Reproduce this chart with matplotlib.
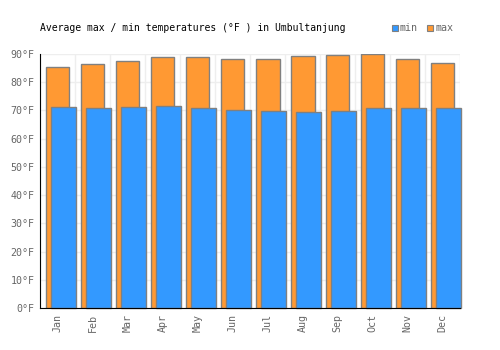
import matplotlib
matplotlib.use("Agg")
import matplotlib.pyplot as plt
from matplotlib.patches import Rectangle

months = ["Jan", "Feb", "Mar", "Apr", "May", "Jun", "Jul", "Aug", "Sep", "Oct", "Nov", "Dec"]
max_temp = [85.3, 86.4, 87.4, 88.8, 88.8, 88.3, 88.3, 89.2, 89.5, 89.9, 88.3, 86.9]
min_temp = [71.1, 70.8, 71.1, 71.5, 70.8, 70.0, 69.7, 69.3, 69.7, 70.8, 70.8, 70.8]
yticks = [0, 10, 20, 30, 40, 50, 60, 70, 80, 90]

ORANGE = "#FF9933"
BLUE = "#3399FF"
EDGE = "#808080"
FONT = "DejaVu Sans Mono"

fig = plt.figure(figsize=(5, 3.5), dpi=100)
ax = fig.add_axes([40/500, 42/350, 420/500, 254/350])

x = list(range(len(months)))
ax.bar([i + 6/35 for i in x], max_temp, width=23.5/35, align="edge",
       color=ORANGE, edgecolor=EDGE, linewidth=1, zorder=2)
ax.bar([i + 11/35 for i in x], min_temp, width=25/35, align="edge",
       color=BLUE, edgecolor=EDGE, linewidth=1, zorder=3, clip_on=False)

ax.set_xlim(0, 12)
ax.set_ylim(0, 90)
ax.set_yticks(yticks)
ax.set_yticklabels([f"{v}°F" for v in yticks], fontsize=7.2, color="#666666", family=FONT)
ax.set_xticks([i + 0.5 for i in x])
ax.set_xticklabels(months, rotation=90, fontsize=7.2, color="#666666", family=FONT)
ax.set_xticks(range(13), minor=True)
ax.tick_params(axis="both", length=0, pad=4)
ax.tick_params(axis="x", which="minor", length=0)
ax.grid(True, which="minor", axis="x", color="#eeeeee", linewidth=1, zorder=0)
ax.grid(True, which="major", axis="y", color="#eeeeee", linewidth=1, zorder=0)
ax.set_axisbelow(True)
for s in ["top", "right"]:
    ax.spines[s].set_visible(False)
ax.spines["left"].set_color("black")
ax.spines["bottom"].set_color("black")
ax.spines["left"].set_zorder(5)
ax.spines["bottom"].set_zorder(5)

fig.text(40/500, 1 - 28/350, "Average max / min temperatures (°F ) in Umbultanjung",
         fontsize=7, family=FONT, color="black", va="center", ha="left")

# legend
for sx, tx, col, lab in [(392, 400, BLUE, "min"), (427, 435, ORANGE, "max")]:
    fig.patches.append(Rectangle((sx/500, 1 - 31/350), 6/500, 6/350, transform=fig.transFigure,
                                 facecolor=col, edgecolor=EDGE, linewidth=0.8))
    fig.text(tx/500, 1 - 28/350, lab, fontsize=7.2, family=FONT, color="#666666",
             va="center", ha="left")

fig.savefig("out.png", dpi=100)
